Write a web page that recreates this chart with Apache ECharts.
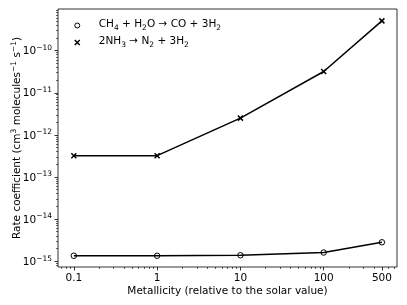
<!DOCTYPE html>
<html><head><meta charset="utf-8">
<script src="https://cdn.jsdelivr.net/npm/echarts@6/dist/echarts.min.js"></script>
<style>html,body{margin:0;padding:0;background:#fff}#c{width:407px;height:305px}</style>
</head><body><div id="c"></div>
<script>
const metallicity = [0.1, 1, 10, 100, 500];
const ch4Rate = [1.34e-15, 1.34e-15, 1.38e-15, 1.6e-15, 2.8e-15];
const nh3Rate = [3.2e-13, 3.2e-13, 2.5e-12, 3.2e-11, 5.1e-10];
const seriesNames = ['CH4 + H2O -> CO + 3H2', '2NH3 -> N2 + 3H2'];
const seriesLabels = ['{n|CH}{d|4}{n| + H}{d|2}{n|O \u2192 CO + 3H}{d|2}', '{n|2NH}{d|3}{n| \u2192 N}{d|2}{n| + 3H}{d|2}'];
const xTickValues = [0.1, 1, 10, 100, 500];
const xTickLabels = ['0.1', '1', '10', '100', '500'];
const yTickExponents = [-15, -14, -13, -12, -11, -10];

const xMin = -1.19, xMax = 2.88, yMin = -15.14, yMax = -9.01;
const lg = Math.log10;
const xMajor = xTickValues.map(lg);
const xMinor = [];
for (let d = -2; d <= 2; d++) for (let s = 2; s <= 9; s++) {
  const v = lg(s) + d;
  if (v > xMin && v < xMax && !xMajor.some(m => Math.abs(m - v) < 1e-6)) xMinor.push(v);
}
const yMinor = [];
for (let d = -16; d <= -9; d++) for (let s = 2; s <= 9; s++) {
  const v = lg(s) + d;
  if (v > yMin && v < yMax) yMinor.push(v);
}
const font = 'DejaVu Sans';
const FS = 10.5;
const toPts = arr => metallicity.map((m, i) => [lg(m), lg(arr[i])]);
const cross = 'path://M0,0L10,10M10,0L0,10';

const chart = echarts.init(document.getElementById('c'), null, {renderer: 'canvas'});
chart.setOption({
  animation: false,
  backgroundColor: '#fff',
  textStyle: {fontFamily: font},
  grid: {left: 58, top: 9, right: 10, bottom: 38, outerBoundsMode: 'none', containLabel: false,
    show: true, borderColor: '#000', borderWidth: 0.8, backgroundColor: 'transparent'},
  legend: {
    orient: 'vertical', left: 69, top: 14, itemWidth: 5, itemHeight: 5, itemGap: 4,
    formatter: name => seriesLabels[seriesNames.indexOf(name)],
    textStyle: {fontFamily: font, fontSize: FS, color: '#000', padding: [0, 0, 0, 14],
      rich: {n: {fontFamily: font, fontSize: FS, lineHeight: 13, verticalAlign: 'top', color: '#000'},
             d: {fontFamily: font, fontSize: 7.5, lineHeight: 9, verticalAlign: 'bottom', color: '#000'}}},
    data: [
      {name: seriesNames[0], icon: 'circle', itemStyle: {color: 'transparent', borderColor: '#000', borderWidth: 1}},
      {name: seriesNames[1], icon: cross, itemStyle: {color: 'transparent', borderColor: '#000', borderWidth: 1.5}}
    ]
  },
  xAxis: [{
    type: 'value', min: xMin, max: xMax,
    name: 'Metallicity (relative to the solar value)', nameLocation: 'middle', nameGap: 19, nameMoveOverlap: false,
    nameTextStyle: {fontFamily: font, fontSize: FS, color: '#000'},
    axisLine: {show: false, onZero: false},
    splitLine: {show: false},
    axisTick: {show: true, customValues: xMajor, length: 3.5, lineStyle: {color: '#000', width: 0.8}},
    axisLabel: {customValues: xMajor, margin: 6, fontFamily: font, fontSize: FS, color: '#000',
      formatter: v => { const i = xMajor.findIndex(m => Math.abs(m - v) < 1e-6); return i >= 0 ? xTickLabels[i] : ''; }}
  }, {
    type: 'value', min: xMin, max: xMax, position: 'bottom',
    axisLine: {show: false, onZero: false}, splitLine: {show: false}, axisLabel: {show: false},
    axisTick: {show: true, customValues: xMinor, length: 2, lineStyle: {color: '#000', width: 0.6}}
  }],
  yAxis: [{
    type: 'value', min: yMin, max: yMax,
    name: '{n|Rate coefficient (cm}{u|3}{n| molecules}{u|\u22121}{n| s}{u|\u22121}{n|)}', nameLocation: 'middle', nameGap: 35, nameMoveOverlap: false,
    nameTextStyle: {fontFamily: font, fontSize: FS, color: '#000',
      rich: {n: {fontFamily: font, fontSize: FS, lineHeight: 13, verticalAlign: 'bottom', color: '#000'},
             u: {fontFamily: font, fontSize: 7.5, lineHeight: 9, verticalAlign: 'top', color: '#000'}}},
    axisLine: {show: false, onZero: false}, splitLine: {show: false},
    axisTick: {show: true, customValues: yTickExponents, length: 3.5, lineStyle: {color: '#000', width: 0.8}},
    axisLabel: {customValues: yTickExponents, margin: 6, color: '#000',
      formatter: v => '{b|10}{s|\u2212' + Math.round(-v) + '}',
      rich: {b: {fontFamily: font, fontSize: FS, lineHeight: 13, verticalAlign: 'bottom', color: '#000'},
             s: {fontFamily: font, fontSize: 7.5, lineHeight: 9, verticalAlign: 'top', color: '#000'}}}
  }, {
    type: 'value', min: yMin, max: yMax, position: 'left',
    axisLine: {show: false, onZero: false}, splitLine: {show: false}, axisLabel: {show: false},
    axisTick: {show: true, customValues: yMinor, length: 2, lineStyle: {color: '#000', width: 0.6}}
  }],
  series: [{
    name: seriesNames[0], type: 'line', data: toPts(ch4Rate),
    symbol: 'circle', symbolSize: 5.5,
    lineStyle: {color: '#000', width: 1.5},
    itemStyle: {color: 'transparent', borderColor: '#000', borderWidth: 1}
  }, {
    name: seriesNames[1], type: 'line', data: toPts(nh3Rate),
    symbol: cross, symbolSize: 5,
    lineStyle: {color: '#000', width: 1.5},
    itemStyle: {color: 'transparent', borderColor: '#000', borderWidth: 1.5}
  }]
});
</script></body></html>
